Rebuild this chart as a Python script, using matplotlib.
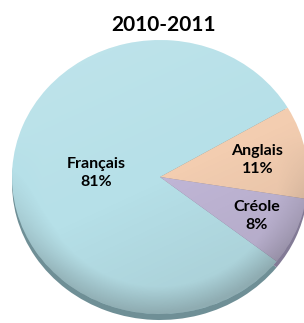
import numpy as np
import matplotlib
matplotlib.use('Agg')
import matplotlib.pyplot as plt
from matplotlib.patches import Ellipse

# data
title = '2010-2011'
langues = ['Français', 'Anglais', 'Créole']
parts = [81, 11, 8]
couleurs = ['#b6e0e8', '#f3cdb0', '#c0b6d6']
cotes = ['#6f8f96', '#a08874', '#837b96']   # darker rim of the 3d pie
label_dist = [0.43, 0.67, 0.71]

plt.rcParams['font.family'] = ['Lato', 'DejaVu Sans']

W, H = 304, 323
fig = plt.figure(figsize=(W / 100, H / 100), dpi=100)

# pie geometry in pixels (from top left)
cx, cy, rx, ry, depth = 160, 177, 148, 137, 6
ylo = -1 - depth / ry - 0.03
ax = fig.add_axes([(cx - rx) / W, (H - cy - ry * (-ylo)) / H,
                   2 * rx / W, ry * (1 - ylo) / H])
ax.axis('off')

# rim of the pie (shifted down)
ax.pie(parts, colors=cotes, startangle=-38, counterclock=False,
       center=(0, -depth / ry), radius=1, frame=False,
       wedgeprops=dict(linewidth=0))
wedges, _ = ax.pie(parts, colors=couleurs, startangle=-38, counterclock=False,
                   center=(0, 0), radius=1, frame=False,
                   wedgeprops=dict(linewidth=0))

# soft light / shade overlay on the top face
n = 300
xx, yy = np.meshgrid(np.linspace(-1, 1, n), np.linspace(1, -1, n))
rr = np.sqrt(xx ** 2 + yy ** 2)
shade = 0.09 * (0.5 * xx - yy) + 0.22 * np.clip(rr - 0.8, 0, None) / 0.2 * np.clip(-yy + 0.3, 0, 1)
rgba = np.zeros((n, n, 4))
dark = shade > 0
rgba[..., :3] = np.where(dark[..., None], 0.2, 1.0)
rgba[..., 3] = np.clip(np.abs(shade), 0, 0.3)
im = ax.imshow(rgba, extent=(-1, 1, -1, 1), aspect='auto', zorder=3)
clip = Ellipse((0, 0), 2, 2, transform=ax.transData, facecolor='none', edgecolor='none')
ax.add_patch(clip)
im.set_clip_path(clip)
ax.set_xlim(-1, 1)
ax.set_ylim(ylo, 1)
ax.set_aspect('auto')

for w, nom, p, d in zip(wedges, langues, parts, label_dist):
    a = np.deg2rad((w.theta1 + w.theta2) / 2)
    ax.text(d * np.cos(a), d * np.sin(a), f'{nom}\n{p}%', ha='center', va='center',
            fontsize=11.5, fontweight='bold', color='black', linespacing=1.3, zorder=5)

fig.text(163 / W, 1 - 25 / H, title, ha='center', va='center',
         fontsize=15, fontweight='bold', color='black')

fig.savefig('out.png', dpi=100)
